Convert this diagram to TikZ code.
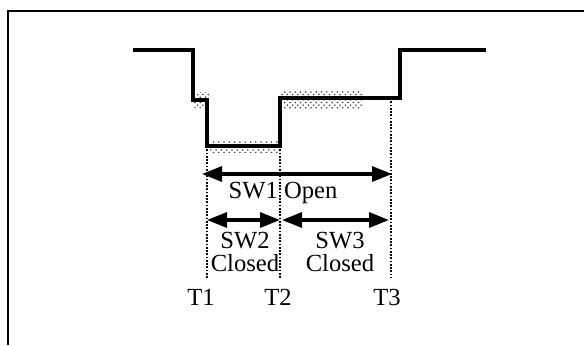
\documentclass[tikz,border=0pt]{standalone}
\usepackage{fontspec}
\setmainfont{Liberation Serif}
\usetikzlibrary{arrows.meta,patterns}

\begin{document}
\begin{tikzpicture}[x=0.2mm,y=-0.2mm,
    wave/.style={line width=0.8mm},
    guide/.style={line width=0.5mm, dash pattern=on 0.35mm off 0.3mm},
    span/.style={{Triangle[length=4mm,width=3mm]}-{Triangle[length=4mm,width=3mm]}, line width=0.65mm},
    band/.style={pattern=crosshatch dots, pattern color=black!75},
    lbl/.style={font=\fontsize{14}{13.5}\selectfont, inner sep=0pt, align=center}]
                    \useasboundingbox (0,0) rectangle (584,345);
                    % Frame
                    \draw[line width=0.5mm] (8,345) -- (8,11) -- (584,11);
                    % Tolerance bands
                    \fill[band] (197,92) rectangle (209,99);
                    \fill[band] (194,101) rectangle (204,107);
                    \fill[band] (209,140) rectangle (280,152);
                    \fill[band] (281,91) rectangle (363,99);
                    \fill[band] (283,99) rectangle (363,108);
                    % Waveform
                    \draw[wave] (133,50) -- (193,50) -- (193,100) -- (207,100) -- (207,146)
                        -- (280,146) -- (280,98) -- (400,98) -- (400,50) -- (486,50);
                    % Time marks
                    \coordinate (t1top) at (207,146);
                    \coordinate (t1bot) at (207,278);
                    \coordinate (t2top) at (280,146);
                    \coordinate (t2bot) at (280,278);
                    \coordinate (t3top) at (391,98);
                    \coordinate (t3bot) at (391,278);
                    \draw[guide] (t1top) -- (t1bot);
                    \draw[guide] (t2top) -- (t2bot);
                    \draw[guide] (t3top) -- (t3bot);
                    % Nodes
                    \node[lbl] (T1) at (201,297) {T1};
                    \node[lbl] (T2) at (278,297) {T2};
                    \node[lbl] (T3) at (387,297) {T3};
                    \node[lbl] (sw1) at (283,193) {SW1 Open};
                    \node[lbl] (sw2) at (245,252) {SW2\\Closed};
                    \node[lbl] (sw3) at (340,252) {SW3\\Closed};
                    % Spans
                    \coordinate (a1) at (202,174);
                    \coordinate (b1) at (392,174);
                    \coordinate (a2) at (207,220);
                    \coordinate (b2) at (280,220);
                    \coordinate (a3) at (282,220);
                    \coordinate (b3) at (389,220);
                    \draw[span] (a1) -- (b1);
                    \draw[span] (a2) -- (b2);
                    \draw[span] (a3) -- (b3);
                \end{tikzpicture}
\end{document}
